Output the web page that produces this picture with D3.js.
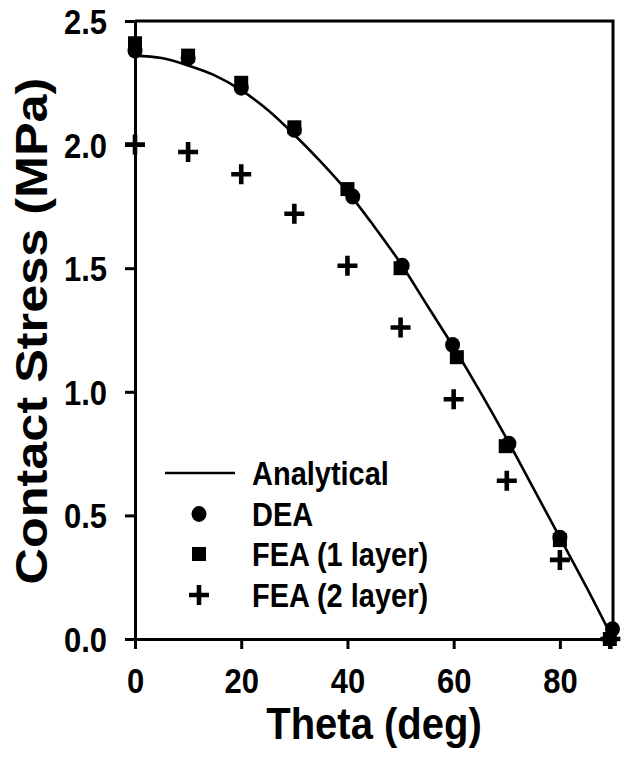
<!DOCTYPE html>
<html>
<head>
<meta charset="utf-8">
<script src="https://cdn.jsdelivr.net/npm/d3@7"></script>
<style>
  html, body { margin: 0; padding: 0; background: #fff; }
  svg { display: block; }
  text { font-family: "Liberation Sans", Arial, sans-serif; font-weight: bold; fill: #000; }
</style>
</head>
<body>
<svg id="chart" width="629" height="762"></svg>
<script>
// ---- Data ----
const analyticTheta = [0, 5, 10, 15, 20, 25, 30, 35, 40, 45, 50, 55, 60, 65, 70, 75, 80, 85, 90];
const analyticStress = [2.36, 2.35, 2.32, 2.28, 2.22, 2.14, 2.04, 1.93, 1.81, 1.67, 1.52, 1.35, 1.18, 1.00, 0.81, 0.61, 0.41, 0.21, 0.0];

const deaTheta = [0, 10, 20, 30, 41, 50.3, 59.8, 70.4, 80, 89.9];
const deaStress = [2.38, 2.35, 2.23, 2.06, 1.79, 1.51, 1.19, 0.79, 0.41, 0.04];

const fea1Theta = [0, 10, 20, 30, 40, 50, 60.6, 69.8, 80, 89.4];
const fea1Stress = [2.41, 2.36, 2.25, 2.07, 1.82, 1.50, 1.14, 0.78, 0.40, 0.0];

const fea2Theta = [0, 10, 20, 30, 40, 50, 60, 70, 80, 89.5];
const fea2Stress = [2.00, 1.97, 1.88, 1.72, 1.51, 1.26, 0.97, 0.64, 0.32, 0.0];

const xTicks = [0, 20, 40, 60, 80];
const yTicks = [0.0, 0.5, 1.0, 1.5, 2.0, 2.5];
const legendLabels = ["Analytical", "DEA", "FEA (1 layer)", "FEA (2 layer)"];

// ---- Layout ----
const svg = d3.select("#chart");
const mLeft = 135, mRight = 613, mTop = 21, mBottom = 639;
const stretch = 1.12; // reference text is drawn slightly tall

const x = d3.scaleLinear().domain([0, 90]).range([mLeft, mRight]);
const y = d3.scaleLinear().domain([0, 2.5]).range([mBottom, mTop]);

// frame (top and right)
svg.append("path")
  .attr("d", `M${x(0)},${y(2.5)}H${x(90)}V${y(0)}`)
  .attr("fill", "none").attr("stroke", "#000").attr("stroke-width", 3);

// axes
const xAxis = svg.append("g").attr("transform", `translate(0,${mBottom})`)
  .call(d3.axisBottom(x).tickValues(xTicks).tickFormat(d3.format("d")).tickSize(10).tickSizeOuter(0));
const yAxis = svg.append("g").attr("transform", `translate(${mLeft},0)`)
  .call(d3.axisLeft(y).tickValues(yTicks).tickFormat(d3.format(".1f")).tickSize(10).tickSizeOuter(0));

[xAxis, yAxis].forEach(g => {
  g.select(".domain").attr("stroke", "#000").attr("stroke-width", 3);
  g.selectAll(".tick line").attr("stroke", "#000").attr("stroke-width", 3);
  g.selectAll(".tick text")
    .style("font-family", '"Liberation Sans", Arial, sans-serif')
    .style("font-weight", "bold").style("font-size", "31px").attr("fill", "#000");
});
xAxis.selectAll(".tick text").attr("y", 0).attr("dy", null)
  .attr("transform", `translate(0,54) scale(1,${stretch})`);
yAxis.selectAll(".tick text").attr("x", null).attr("dy", "0.36em")
  .attr("transform", `translate(-28,0) scale(1,${stretch})`);

// axis titles
svg.append("text")
  .attr("transform", `translate(${(mLeft + mRight) / 2},739) scale(1,${stretch})`)
  .attr("text-anchor", "middle").style("font-size", "40px")
  .text("Theta (deg)");
svg.append("text")
  .attr("transform", `translate(47,${(mTop + mBottom) / 2 + 1}) rotate(-90) scale(${stretch},1)`)
  .attr("text-anchor", "middle").style("font-size", "45px")
  .text("Contact Stress (MPa)");

// analytical curve
const line = d3.line().x((d, i) => x(analyticTheta[i])).y(d => y(d)).curve(d3.curveCatmullRom);
svg.append("path").datum(analyticStress)
  .attr("d", line).attr("fill", "none").attr("stroke", "#000").attr("stroke-width", 2.6);

// markers
const circ = d3.symbol().type(d3.symbolCircle).size(Math.PI * 7.5 * 7.5);
const sq = d3.symbol().type(d3.symbolSquare).size(14 * 14);
const plusPath = "M-10,-2.3H-2.3V-10H2.3V-2.3H10V2.3H2.3V10H-2.3V2.3H-10Z";

svg.append("g").selectAll("path").data(fea1Stress).join("path")
  .attr("d", sq()).attr("transform", (d, i) => `translate(${x(fea1Theta[i])},${y(d)})`).attr("fill", "#000");
svg.append("g").selectAll("path").data(deaStress).join("path")
  .attr("d", circ()).attr("transform", (d, i) => `translate(${x(deaTheta[i])},${y(d)}) scale(1,1.06)`).attr("fill", "#000");
svg.append("g").selectAll("path").data(fea2Stress).join("path")
  .attr("d", plusPath).attr("transform", (d, i) => `translate(${x(fea2Theta[i])},${y(d)})`).attr("fill", "#000");

// legend
const lg = svg.append("g");
const rowY = [473, 514, 554, 595];
const symX = 199, textX = 252;
lg.append("line").attr("x1", 165).attr("x2", 235).attr("y1", rowY[0]).attr("y2", rowY[0])
  .attr("stroke", "#000").attr("stroke-width", 2.6);
lg.append("path").attr("d", circ()).attr("transform", `translate(${symX},${rowY[1]}) scale(1,1.06)`);
lg.append("path").attr("d", sq()).attr("transform", `translate(${symX},${rowY[2]})`);
lg.append("path").attr("d", plusPath).attr("transform", `translate(${symX},${rowY[3]})`);
lg.selectAll("text").data(legendLabels).join("text")
  .attr("transform", (d, i) => `translate(${textX},${rowY[i]}) scale(1,${stretch})`)
  .attr("dy", "0.36em")
  .style("font-size", "29px").text(d => d);
</script>
</body>
</html>
